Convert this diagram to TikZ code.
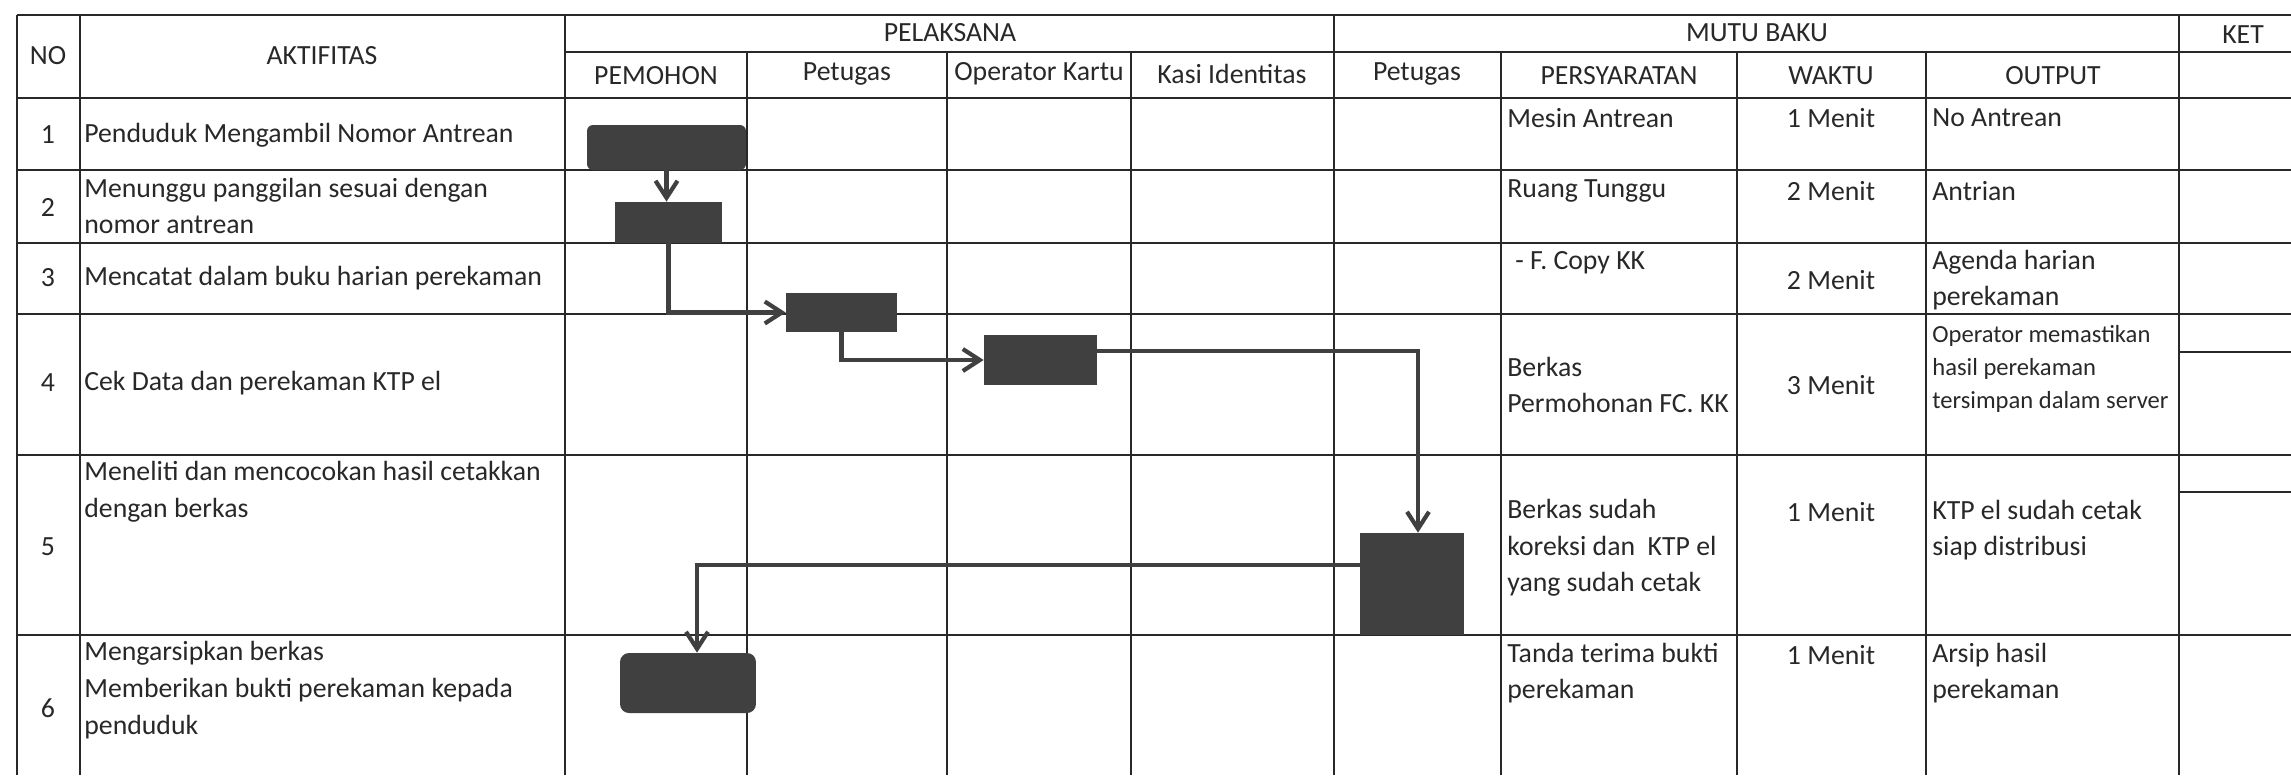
\documentclass[tikz,border=0pt]{standalone}
\usepackage{fontspec}
\setmainfont{Carlito}
\usetikzlibrary{arrows.meta,positioning}
\definecolor{mgrid}{RGB}{40,40,40}
\definecolor{mbox}{RGB}{64,64,64}
\definecolor{mtext}{RGB}{40,40,40}

\begin{document}
\begin{tikzpicture}[x=0.02cm, y=-0.02cm,
    grid/.style={mgrid, line width=1.3pt},
    act/.style={fill=mbox, draw=none, inner sep=0pt},
    arr/.style={-{Straight Barb[length=0.34cm, width=0.44cm]}, mbox, line width=2.4pt},
    txt/.style={font=\fontsize{15.8}{20.9}\selectfont, text=mtext, inner sep=0pt},
    lft/.style={txt, anchor=west, align=left},
    sml/.style={lft, font=\fontsize{14}{18.8}\selectfont},
  ]
    \useasboundingbox (0,0) rectangle (2291,775);
    % table grid
    \draw[grid] (17,15) -- (2291,15);
    \draw[grid] (565,52) -- (2291,52);
    \foreach \y in {98,170,243,314,455,635}
      \draw[grid] (17,\y) -- (2291,\y);
    \foreach \y in {352,492}
      \draw[grid] (2179,\y) -- (2291,\y);
    \foreach \x in {17,80,565,1334,2179}
      \draw[grid] (\x,15) -- (\x,775);
    \foreach \x in {747,947,1131,1501,1737,1926}
      \draw[grid] (\x,52) -- (\x,775);

    % header
    \node[txt] (hNo)   at (48,56)   {NO};
    \node[txt] (hAkt)  at (322,56)  {AKTIFITAS};
    \node[txt] (hPel)  at (950,33)  {PELAKSANA};
    \node[txt] (hMutu) at (1757,33) {MUTU BAKU};
    \node[txt] (hKet)  at (2243,35) {KET};
    \node[txt] (hPem)  at (656,76)  {PEMOHON};
    \node[txt] (hPet)  at (847,74)  {Petugas};
    \node[txt] (hOp)   at (1039,74) {Operator Kartu};
    \node[txt] (hKasi) at (1232,74) {Kasi Identitas};
    \node[txt] (hPet2) at (1417,74) {Petugas};
    \node[txt] (hPers) at (1619,76) {PERSYARATAN};
    \node[txt] (hWak)  at (1831,76) {WAKTU};
    \node[txt] (hOut)  at (2053,76) {OUTPUT};

    % numbers
    \foreach \n/\y in {1/135,2/207,3/278,4/383,5/547,6/708}
      \node[txt] (n\n) at (48,\y) {\n};

    % activities
    \node[lft] (a1) at (84,135) {Penduduk Mengambil Nomor Antrean};
    \node[lft] (a2) at (84,206) {Menunggu panggilan sesuai dengan\\nomor antrean};
    \node[lft] (a3) at (84,278) {Mencatat dalam buku harian perekaman};
    \node[lft] (a4) at (84,383) {Cek Data dan perekaman KTP el};
    \node[lft] (a5) at (84,492) {Meneliti dan mencocokan hasil cetakkan\\dengan berkas};
    \node[lft] (a6) at (84,690) {Mengarsipkan berkas\\Memberikan bukti perekaman kepada\\penduduk};

    % persyaratan
    \node[lft] (p1) at (1507,118) {Mesin Antrean};
    \node[lft] (p2) at (1507,191) {Ruang Tunggu};
    \node[lft] (p3) at (1515,263) {- F. Copy KK};
    \node[lft] (p4) at (1507,385) {Berkas\\Permohonan FC. KK};
    \node[lft] (p5) at (1507,548) {Berkas sudah\\koreksi dan\ \ KTP el\\yang sudah cetak};
    \node[lft] (p6) at (1507,673) {Tanda terima bukti\\perekaman};

    % waktu
    \foreach \n/\y/\t in {1/118/1,2/191/2,3/280/2,4/385/3,5/512/1,6/655/1}
      \node[txt] (w\n) at (1831,\y) {\t{} Menit};

    % output
    \node[lft] (o1) at (1932,118) {No Antrean};
    \node[lft] (o2) at (1932,191) {Antrian};
    \node[lft] (o3) at (1932,280) {Agenda harian\\perekaman};
    \node[sml] (o4) at (1932,369) {Operator memastikan\\hasil perekaman\\tersimpan dalam server};
    \node[lft] (o5) at (1932,530) {KTP el sudah cetak\\siap distribusi};
    \node[lft] (o6) at (1932,673) {Arsip hasil\\perekaman};

    % flow
    \node[act, rounded corners=0.12cm, minimum width=3.18cm, minimum height=0.9cm] (s1) at (666.5,147.5) {};
    \node[act, minimum width=2.14cm, minimum height=0.82cm] (s2) at (668.5,222.5) {};
    \node[act, minimum width=2.22cm, minimum height=0.78cm] (s3) at (841.5,312.5) {};
    \node[act, minimum width=2.26cm, minimum height=1.0cm] (s4) at (1040.5,360) {};
    \node[act, minimum width=2.08cm, minimum height=2.04cm] (s5) at (1412,584) {};
    \node[act, rounded corners=0.18cm, minimum width=2.72cm, minimum height=1.2cm] (s6) at (688,683) {};

    \draw[arr] (s1.south) -- (s1.south |- s2.north);
    \draw[arr] (s2.south) |- (s3.west);
    \draw[arr] (s3.south) |- (s4.west);
    \draw[arr] ([yshift=0.18cm]s4.east) -| ([xshift=0.12cm]s5.north);
    \draw[arr] ([yshift=0.38cm]s5.west) -| ([xshift=0.18cm]s6.north);
\end{tikzpicture}
\end{document}
